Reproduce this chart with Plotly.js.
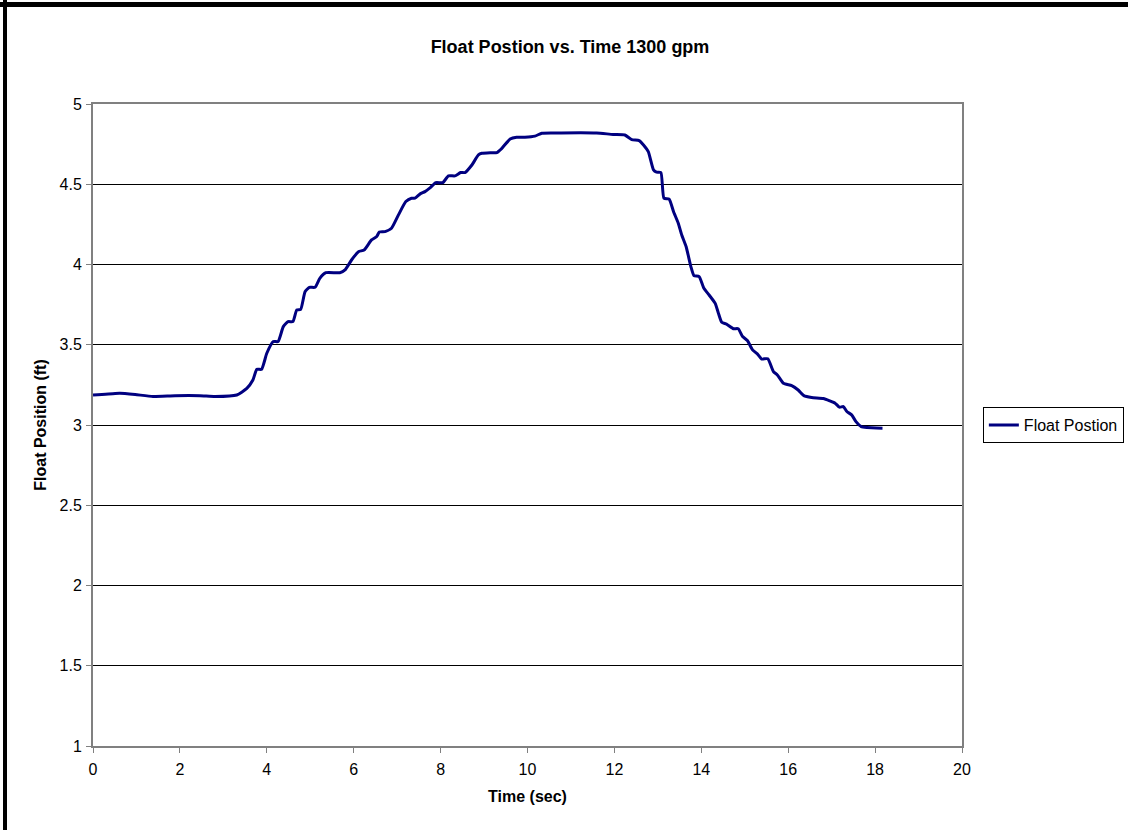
<!DOCTYPE html>
<html>
<head>
<meta charset="utf-8">
<script src="https://cdn.plot.ly/plotly-3.0.1.min.js"></script>
<style>
  html, body { margin: 0; padding: 0; background: #fff; }
  #wrap { position: relative; width: 1128px; height: 830px; overflow: hidden; }
  #chart { position: absolute; left: 0; top: 0; width: 1128px; height: 830px; }
  .edge { position: absolute; background: #000; z-index: 5; }
</style>
</head>
<body>
<div id="wrap">
  <div id="chart"></div>
  <div class="edge" style="left:0;top:2px;width:1128px;height:5px;"></div>
  <div class="edge" style="left:3px;top:0;width:4px;height:830px;"></div>
</div>
<script>
// Float position recorded over time at 1300 gpm
const timeSec = [
  0, 0.51, 0.62, 0.97, 1.38, 1.89, 2.46, 2.81, 3.31, 3.54, 3.68, 3.77, 3.88, 4.00,
  4.15, 4.26, 4.38, 4.49, 4.60, 4.69, 4.78, 4.88, 4.98, 5.11, 5.22, 5.36, 5.68,
  5.80, 5.95, 6.11, 6.24, 6.41, 6.53, 6.59, 6.72, 6.87, 7.03, 7.20, 7.33, 7.41,
  7.53, 7.64, 7.77, 7.89, 8.05, 8.18, 8.33, 8.46, 8.56, 8.72, 8.87, 8.95, 9.14,
  9.29, 9.41, 9.60, 9.75, 9.94, 10.17, 10.33, 10.59, 11.59, 11.97, 12.24, 12.40,
  12.57, 12.67, 12.78, 12.90, 12.97, 13.07, 13.14, 13.26, 13.36, 13.47, 13.55,
  13.65, 13.76, 13.83, 13.95, 14.06, 14.18, 14.32, 14.39, 14.47, 14.58, 14.74,
  14.85, 14.95, 15.06, 15.18, 15.29, 15.39, 15.53, 15.66, 15.75, 15.89, 16.08,
  16.23, 16.36, 16.54, 16.81, 16.96, 17.08, 17.18, 17.27, 17.35, 17.46, 17.56,
  17.68, 17.81, 18.17
];
const floatPosFt = [
  3.187, 3.197, 3.198, 3.190, 3.178, 3.183, 3.183, 3.178, 3.187, 3.228, 3.280, 3.347, 3.347, 3.447,
  3.520, 3.520, 3.613, 3.644, 3.644, 3.717, 3.720, 3.830, 3.858, 3.858, 3.914, 3.949, 3.949,
  3.966, 4.028, 4.080, 4.090, 4.153, 4.174, 4.203, 4.205, 4.226, 4.309, 4.392, 4.413, 4.413,
  4.440, 4.454, 4.481, 4.510, 4.510, 4.552, 4.552, 4.573, 4.573, 4.620, 4.683, 4.693, 4.697,
  4.697, 4.724, 4.782, 4.793, 4.793, 4.800, 4.818, 4.820, 4.820, 4.810, 4.807, 4.778,
  4.772, 4.745, 4.703, 4.589, 4.575, 4.573, 4.413, 4.407, 4.330, 4.257, 4.184,
  4.112, 3.987, 3.931, 3.925, 3.852, 3.810, 3.758, 3.700, 3.640, 3.629, 3.600,
  3.600, 3.551, 3.526, 3.468, 3.443, 3.411, 3.413, 3.333, 3.312, 3.260, 3.245,
  3.218, 3.183, 3.171, 3.165, 3.150, 3.136, 3.111, 3.115, 3.084, 3.063, 3.021,
  2.990, 2.984, 2.980
];
const seriesName = 'Float Postion';
const chartTitle = 'Float Postion vs. Time 1300 gpm';
const xTitle = 'Time (sec)';
const yTitle = 'Float Position (ft)';

const font = 'Liberation Sans, Arial, sans-serif';

const trace = {
  x: timeSec,
  y: floatPosFt,
  type: 'scatter',
  mode: 'lines',
  name: seriesName,
  line: { color: '#000080', width: 3, shape: 'spline', smoothing: 0.5 }
};

const layout = {
  width: 1128,
  height: 830,
  paper_bgcolor: '#ffffff',
  plot_bgcolor: '#ffffff',
  margin: { l: 93, r: 166, t: 104, b: 84, autoexpand: false },
  font: { family: font, size: 16, color: '#000' },
  title: {
    text: '<b>' + chartTitle + '</b>',
    font: { family: font, size: 18, color: '#000' },
    x: 570 / 1128, xref: 'container', xanchor: 'center',
    y: 1 - 47 / 830, yref: 'container', yanchor: 'middle'
  },
  showlegend: true,
  legend: {
    x: 1.024, xanchor: 'left', y: 0.5, yanchor: 'middle',
    bordercolor: '#000', borderwidth: 1, bgcolor: '#fff',
    font: { family: font, size: 16, color: '#000' },
    itemwidth: 30, tracegroupgap: 0
  },
  xaxis: {
    range: [0, 20],
    tickmode: 'linear', tick0: 0, dtick: 2,
    ticks: 'outside', ticklen: 5, tickcolor: '#808080', tickwidth: 1,
    ticklabelstandoff: 3,
    showgrid: false, zeroline: false,
    showline: true, linecolor: '#808080', linewidth: 2, mirror: true,
    tickfont: { family: font, size: 16, color: '#000' },
    title: { text: '<b>' + xTitle + '</b>', font: { family: font, size: 16, color: '#000' }, standoff: 14 },
    automargin: false,
    fixedrange: true
  },
  yaxis: {
    range: [1, 5],
    tickmode: 'linear', tick0: 1, dtick: 0.5,
    ticks: 'outside', ticklen: 5, tickcolor: '#808080', tickwidth: 1,
    ticklabelstandoff: 1,
    showgrid: true, gridcolor: '#000', gridwidth: 1, zeroline: false,
    showline: true, linecolor: '#808080', linewidth: 2, mirror: true,
    tickfont: { family: font, size: 16, color: '#000' },
    title: { text: '<b>' + yTitle + '</b>', font: { family: font, size: 16, color: '#000' }, standoff: 9 },
    automargin: false,
    fixedrange: true
  }
};

Plotly.newPlot('chart', [trace], layout, { displayModeBar: false, staticPlot: true });
</script>
</body>
</html>
